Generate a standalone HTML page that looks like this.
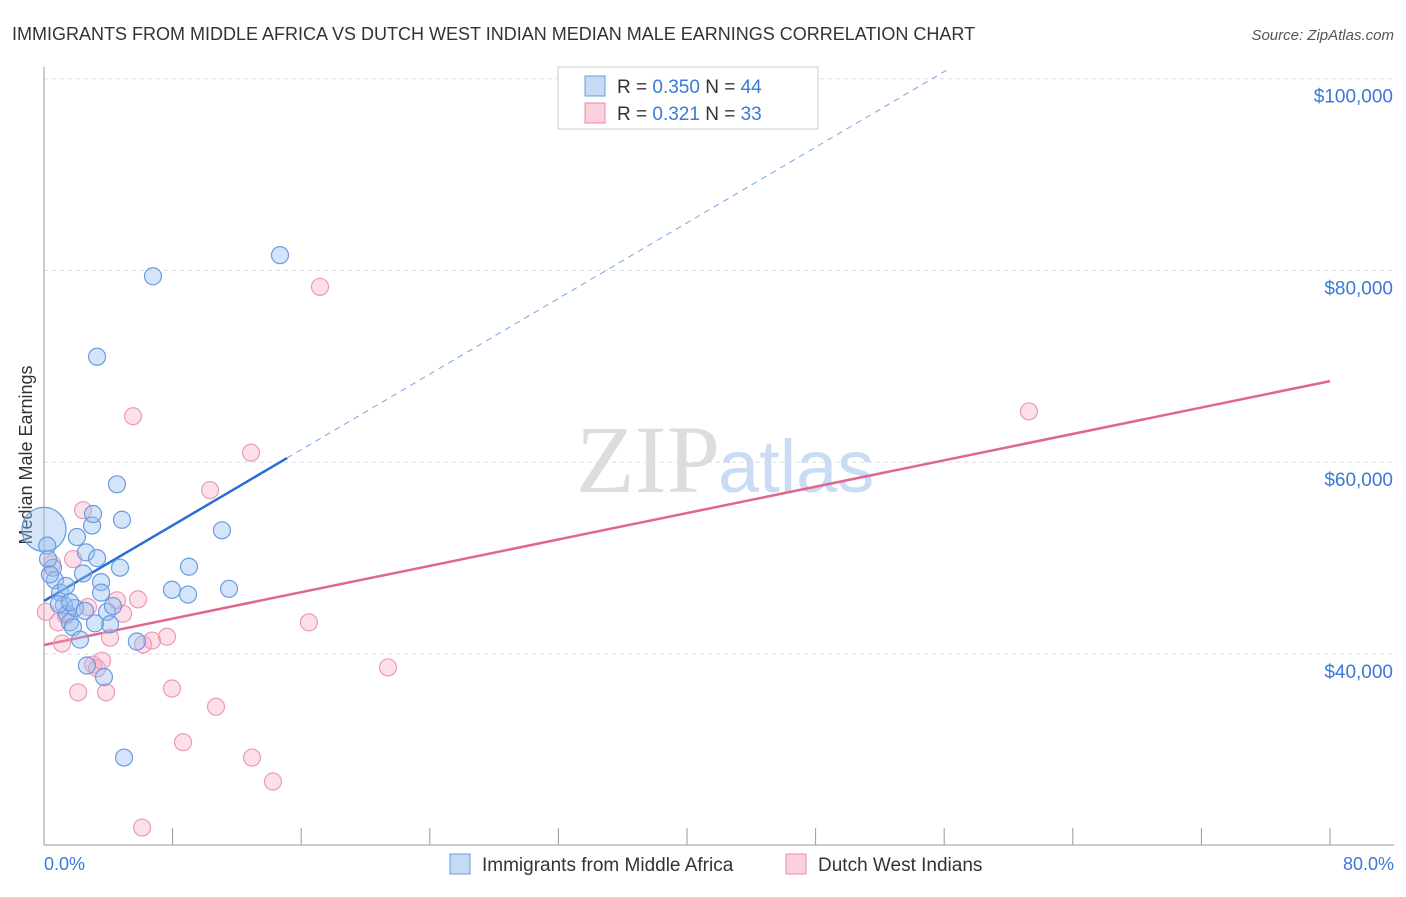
<!DOCTYPE html>
<html><head><meta charset="utf-8"><style>
body{margin:0;background:#fff;font-family:"Liberation Sans",sans-serif}
</style></head><body>
<svg width="1406" height="892" xmlns="http://www.w3.org/2000/svg" id="chart">
<text x="12" y="40" font-size="18" fill="#333">IMMIGRANTS FROM MIDDLE AFRICA VS DUTCH WEST INDIAN MEDIAN MALE EARNINGS CORRELATION CHART</text>
<text x="1394" y="40" font-size="15" fill="#555" font-style="italic" text-anchor="end">Source: ZipAtlas.com</text>
<text x="720" y="492" font-size="96" fill="#ddd" text-anchor="end" font-family="Liberation Serif">ZIP</text>
<text x="718" y="492" font-size="74" fill="#c9dcf3">atlas</text>
<g id="grid"></g>
<line x1="44" y1="67" x2="44" y2="845" stroke="#999"/>
<line x1="44" y1="845" x2="1394" y2="845" stroke="#999"/>
<text x="32" y="455" font-size="18" fill="#333" text-anchor="middle" transform="rotate(-90 32 455)">Median Male Earnings</text>
<text x="44" y="870" font-size="18" fill="#3b78d8">0.0%</text>
<text x="1394" y="870" font-size="18" fill="#3b78d8" text-anchor="end">80.0%</text>
<g id="lines"></g>
<g id="points"></g>
<g>
<rect x="558" y="67" width="260" height="62" fill="#fff" stroke="#ccc"/>
<rect x="585" y="76" width="20" height="20" fill="#c5daf5" stroke="#6a9be0"/>
<rect x="585" y="103" width="20" height="20" fill="#fbd0dd" stroke="#e88aa8"/>
<text x="617" y="93" font-size="19" fill="#333">R = <tspan fill="#3b78d8">0.350</tspan>   N = <tspan fill="#3b78d8">44</tspan></text>
<text x="617" y="120" font-size="19" fill="#333">R =  <tspan fill="#3b78d8">0.321</tspan>   N = <tspan fill="#3b78d8">33</tspan></text>
</g>
<g>
<rect x="450" y="854" width="20" height="20" fill="#c5daf5" stroke="#6a9be0"/>
<text x="482" y="871" font-size="19" fill="#333">Immigrants from Middle Africa</text>
<rect x="786" y="854" width="20" height="20" fill="#fbd0dd" stroke="#e88aa8"/>
<text x="818" y="871" font-size="19" fill="#333">Dutch West Indians</text>
</g>
</svg>
<script>
const yTicks=[40000,60000,80000,100000];
const yTickLabels=["$40,000","$60,000","$80,000","$100,000"];
const xTicks=[0,8,16,24,32,40,48,56,64,72,80];
const blueX=[0,0.2,0.56,0.68,1,1.24,1.43,1.62,1.8,1.93,2.05,2.24,2.43,2.61,2.55,2.67,2.99,3.05,3.3,3.3,3.55,3.55,3.73,3.92,4.11,4.29,4.54,4.73,4.85,4.98,5.78,6.78,7.96,8.96,9.02,11.07,11.51,14.68,0.25,0.93,1.62,3.17,1.37,0.37];
const blueY=[53000,51300,49000,47700,46400,45100,44200,43300,42800,44800,52200,41500,48400,50600,44500,38800,53400,54600,50000,71000,47500,46400,37600,44400,43100,45000,57700,49000,54000,29200,41300,79400,46700,46200,49100,52900,46800,81600,49900,45200,45400,43200,47100,48300];
const pinkX=[0.12,0.5,0.87,1.12,1.37,1.81,2.12,2.43,2.74,3.05,3.3,3.61,3.86,4.11,4.54,4.92,5.54,5.85,6.16,6.72,7.65,7.96,8.65,10.33,10.7,12.88,12.94,14.24,16.48,17.17,21.4,6.1,61.27];
const pinkY=[44400,49400,43300,41100,44000,49900,36000,55000,44900,38900,38500,39300,36000,41700,45600,44200,64800,45700,41000,41400,41800,36400,30800,57100,34500,61000,29200,26700,43300,78300,38600,21900,65300];
const blueFit=[45528,986];
const pinkFit=[40939,344];
const X=v=>44+v*16.075, Y=v=>654-(v-40000)/104.3;
const NS="http://www.w3.org/2000/svg";
function mk(t,a,p){const e=document.createElementNS(NS,t);for(const k in a)e.setAttribute(k,a[k]);p.appendChild(e);return e;}
const grid=document.getElementById('grid');
yTicks.forEach((v,i)=>{
 const l=mk('line',{x1:44,x2:1394,y1:Y(v),y2:Y(v),stroke:'#ddd','stroke-dasharray':'4 4'},grid);
 
 
 const t=mk('text',{x:1393,y:Y(v)+24,'font-size':19,fill:'#3b78d8','text-anchor':'end'},grid);
 t.textContent=yTickLabels[i];
 
 
});
xTicks.forEach(v=>{
 const l=mk('line',{x1:X(v),x2:X(v),y1:828,y2:845,stroke:'#999'},grid);
 
 
});
const pts=document.getElementById('points');
pinkX.forEach((x,i)=>{
 const c=mk('circle',{cx:X(x),cy:Y(pinkY[i]),r:8.5,fill:'rgba(246,166,192,0.35)',stroke:'#ee99b5','stroke-width':1.2},pts);
 
 
});
blueX.forEach((x,i)=>{
 const c=mk('circle',{cx:X(x),cy:Y(blueY[i]),r:i==0?22:8.5,fill:'rgba(150,190,240,0.4)',stroke:'#6a9be0','stroke-width':1.2},pts);
 
 
});
const ln=document.getElementById('lines');
const f=(p,x)=>p[0]+p[1]*x;
let a=mk('line',{x1:X(0),y1:Y(f(blueFit,0)),x2:X(15.12),y2:Y(f(blueFit,15.12)),stroke:'#2a6fd6','stroke-width':2.5},ln);


let xe=(100000+1150-blueFit[0])/blueFit[1];
a=mk('line',{x1:X(15.12),y1:Y(f(blueFit,15.12)),x2:X(xe),y2:Y(f(blueFit,xe)),stroke:'#7aa5e0','stroke-width':1,'stroke-dasharray':'6 5'},ln);


a=mk('line',{x1:X(0),y1:Y(f(pinkFit,0)),x2:X(80),y2:Y(f(pinkFit,80)),stroke:'#e06690','stroke-width':2.5},ln);


</script>
</body></html>
